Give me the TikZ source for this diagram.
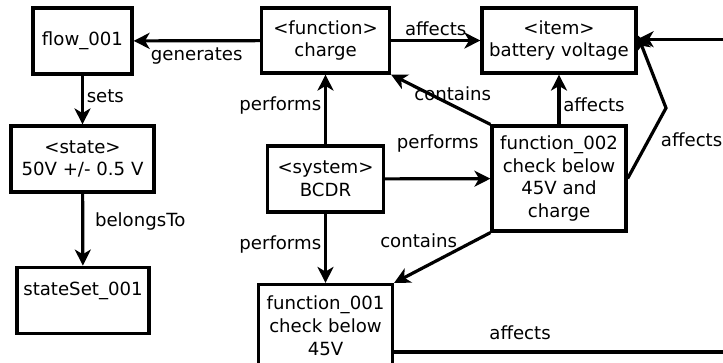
\documentclass[tikz,border=0pt]{standalone}
\usepackage{fontspec}
\setmainfont{DejaVu Sans}
\usetikzlibrary{arrows.meta}

\tikzset{every picture/.style={line width=0.75pt}}
\tikzset{
	box/.style={draw, line width=2.4pt, align=center, inner sep=1pt, font=\fontsize{13.6}{17}\selectfont},
	arr/.style={line width=2.4pt, -{Stealth[length=12pt, width=12pt, inset=3.5pt]}},
	lbl/.style={font=\fontsize{13.6}{17}\selectfont, inner sep=2pt}
}

\begin{document}
\begin{tikzpicture}[x=0.75pt,y=0.75pt,yscale=-1,xscale=1]
		\useasboundingbox (0,0) rectangle (723,362);
		\clip (0,0) rectangle (723,362);

		\node [box, minimum width=74.25pt, minimum height=49.5pt] (flow) at (82.5,41) {flow\_001};
		\node [box, minimum width=107.25pt, minimum height=49.5pt] (state) at (82.5,159) {<state>\\50V +/- 0.5 V};
		\node [box, minimum width=99pt, minimum height=50pt] (sset) at (83,300.5) {stateSet\_001\\\mbox{}};
		\node [box, minimum width=96pt, minimum height=48.75pt] (charge) at (325.5,40.5) {<function>\\charge};
		\node [box, minimum width=115.5pt, minimum height=48.75pt] (bv) at (559,40.5) {<item>\\battery voltage};
		\node [box, minimum width=87pt, minimum height=49.5pt] (bcdr) at (325.5,179) {<system>\\BCDR};
		\node [box, minimum width=100.5pt, minimum height=78.75pt] (ftwo) at (559,178.5) {function\_002\\check below\\45V and\\charge};
		\node [box, minimum width=100.5pt, minimum height=78.75pt] (fone) at (325.5,337) {function\_001\\check below\\45V\\\mbox{}};

		\coordinate (bend) at (666,108);

		\draw [arr] (charge) -- (flow) node [lbl, midway, below, yshift=-2pt] {generates};
		\draw [arr] (flow) -- (state) node [lbl, midway, right, yshift=3pt] {sets};
		\draw [arr] (state) -- (sset) node [lbl, midway, right, xshift=6pt, yshift=6pt] {belongsTo};
		\draw [arr] (charge) -- (bv) node [lbl, midway, above] {affects};
		\draw [arr] (bcdr) -- (charge) node [lbl, midway, left, yshift=3pt] {performs};
		\draw [arr] (bcdr) -- (ftwo) node [lbl, midway, above, yshift=17pt] {performs};
		\draw [arr] (bcdr) -- (fone) node [lbl, midway, left, yshift=3pt] {performs};
		\draw [arr] (ftwo.north west) -- (charge.south east) node [lbl, pos=0.38, above] {contains};
		\draw [arr] (ftwo) -- (bv) node [lbl, midway, right, yshift=-4pt] {affects};
		\draw [arr] (ftwo.east) -- (bend) node [lbl, pos=0.55, right, xshift=6pt] {affects} -- ([yshift=-4pt]bv.east);
		\draw [arr] (ftwo.south west) -- (fone.north east) node [lbl, pos=0.33, anchor=south east, inner sep=0pt] {contains};
		% leaves the frame on the right and comes back into the item
		\draw [arr] ([yshift=11.25pt]fone.east) -- ++(360,0) node [lbl, pos=0.35, above, yshift=6pt] {affects} |- ([yshift=-1pt]bv.east);

\end{tikzpicture}
\end{document}
